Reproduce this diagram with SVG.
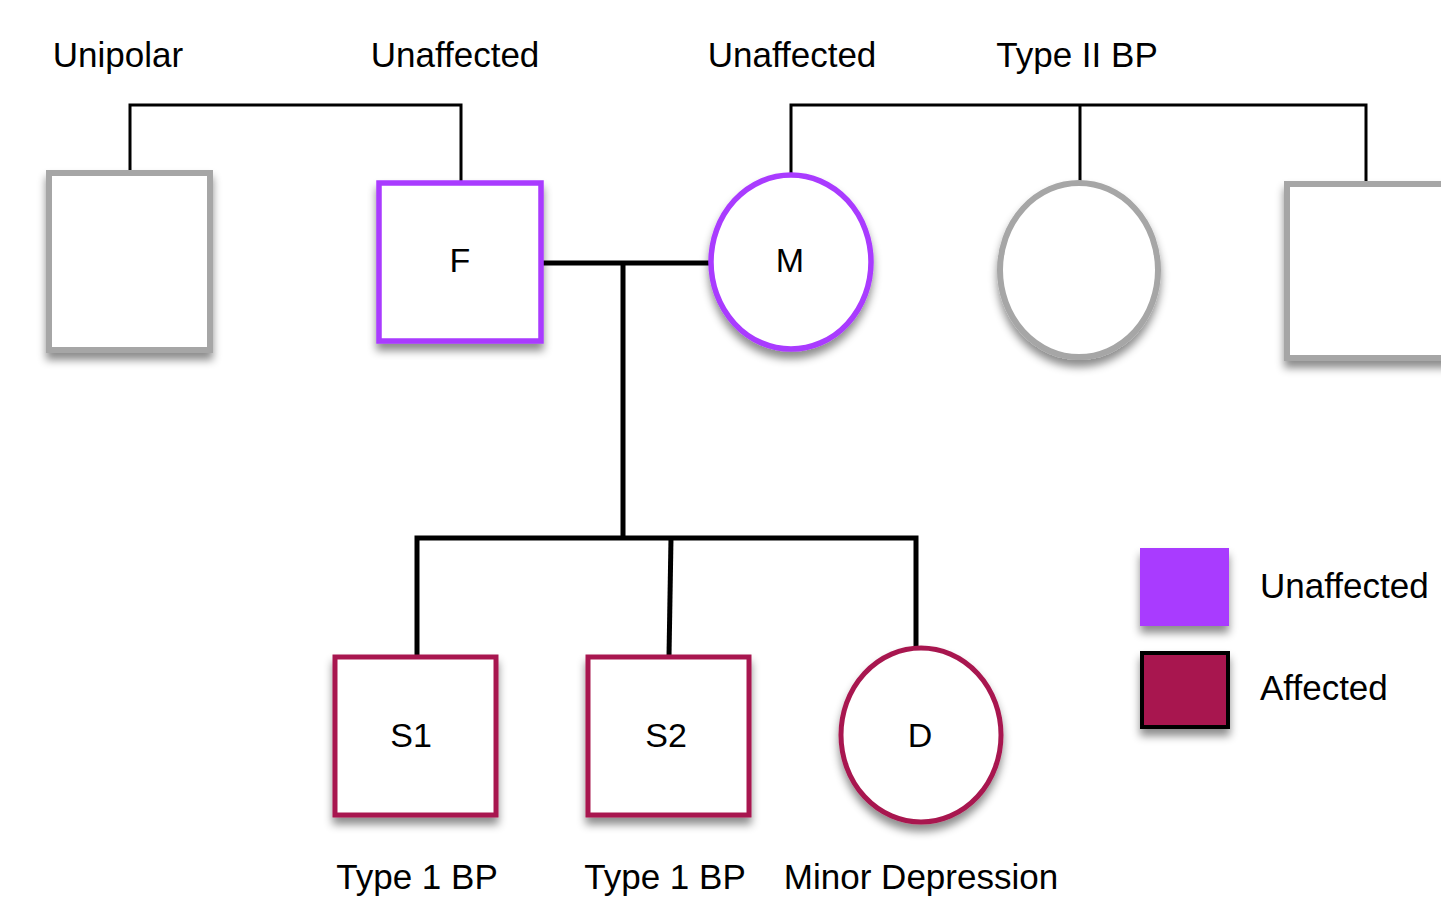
<svg xmlns="http://www.w3.org/2000/svg" width="1441" height="899" viewBox="0 0 1441 899">
<style>
text{font-family:"Liberation Sans",Arial,sans-serif;font-size:35px;fill:#000;text-anchor:middle}
.lab{font-size:34px}
.leg{text-anchor:start}
.gray{fill:#fff;stroke:#a6a6a6;stroke-width:6}
.unaff{fill:#fff;stroke:#a93aff;stroke-width:5.5}
.aff{fill:#fff;stroke:#a8194f;stroke-width:5}
.thin{fill:none;stroke:#000;stroke-width:3}
.thick{fill:none;stroke:#000;stroke-width:5}
</style>
<defs>
<filter id="sh" x="-20%" y="-20%" width="140%" height="150%">
<feDropShadow dx="0" dy="7" stdDeviation="4" flood-color="#000" flood-opacity="0.45"/>
</filter>
</defs>
<g id="labels">
<text x="118" y="67">Unipolar</text>
<text x="455" y="67">Unaffected</text>
<text x="792" y="67">Unaffected</text>
<text x="1077" y="67">Type II BP</text>
<text x="417" y="889">Type 1 BP</text>
<text x="665" y="889">Type 1 BP</text>
<text x="921" y="889">Minor Depression</text>
</g>
<g id="connectors">
<polyline class="thin" points="130,172 130,105 461,105 461,182"/>
<polyline class="thin" points="791,173 791,105 1366,105 1366,182"/>
<line class="thin" x1="1080" y1="105" x2="1080" y2="182"/>
<line class="thick" x1="543" y1="263" x2="711" y2="263"/>
<line class="thick" x1="623" y1="263" x2="623" y2="538"/>
<polyline class="thick" points="417,656 417,538 916,538 916,647"/>
<line class="thick" x1="671" y1="538" x2="669" y2="656"/>
</g>
<g id="unipolar"><rect class="gray" x="49" y="173" width="161" height="177" filter="url(#sh)"/></g>
<g id="F"><rect class="unaff" x="379" y="183" width="162" height="158" filter="url(#sh)"/><text class="lab" x="460" y="272">F</text></g>
<g id="M"><ellipse class="unaff" cx="791" cy="262" rx="80" ry="87" filter="url(#sh)"/><text class="lab" x="790" y="272">M</text></g>
<g id="typeII"><ellipse class="gray" cx="1079" cy="270" rx="79" ry="87" filter="url(#sh)"/></g>
<g id="rightbox"><rect class="gray" x="1287" y="184" width="180" height="174" filter="url(#sh)"/></g>
<g id="S1"><rect class="aff" x="335" y="657" width="161" height="158" filter="url(#sh)"/><text class="lab" x="411" y="747">S1</text></g>
<g id="S2"><rect class="aff" x="588" y="657" width="161" height="158" filter="url(#sh)"/><text class="lab" x="666" y="747">S2</text></g>
<g id="D"><ellipse class="aff" cx="921" cy="735" rx="80" ry="87" filter="url(#sh)"/><text class="lab" x="920" y="747">D</text></g>
<g id="legend">
<rect x="1140" y="548" width="89" height="78" fill="#a93aff" filter="url(#sh)"/>
<text class="leg" x="1260" y="598">Unaffected</text>
<rect x="1142" y="653" width="86" height="74" fill="#a8194f" stroke="#000" stroke-width="4" filter="url(#sh)"/>
<text class="leg" x="1260" y="700">Affected</text>
</g>
</svg>
